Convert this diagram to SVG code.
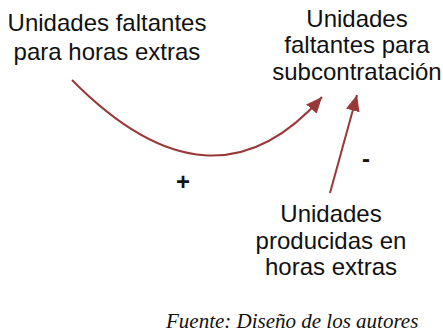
<svg xmlns="http://www.w3.org/2000/svg" width="443" height="334" viewBox="0 0 443 334">
<defs>
<style>
.t{font-family:"Liberation Sans",Arial,sans-serif;font-size:24px;fill:#111;text-anchor:middle}
.s{font-family:"Liberation Sans",Arial,sans-serif;font-size:24px;font-weight:bold;fill:#111;text-anchor:middle}
.c{fill:none;stroke:#993838;stroke-width:2}
.src{font-family:"Liberation Serif","Times New Roman",serif;font-style:italic;font-size:21px;fill:#111}
</style>
<marker id="ah" markerUnits="userSpaceOnUse" markerWidth="18" markerHeight="14" refX="16" refY="7" orient="auto">
<path d="M0,0 L16,7 L0,14 z" fill="#993838"/>
</marker>
</defs>
<rect width="443" height="334" fill="#fff"/>
<g id="connectors">
<path class="c" d="M72,80 Q212,222 322,97" marker-end="url(#ah)"/>
<path class="c" d="M330,193 L357,95" marker-end="url(#ah)"/>
</g>
<g id="node-faltantes-horas">
<text class="t" x="107" y="31">Unidades faltantes</text>
<text class="t" x="107" y="60">para horas extras</text>
</g>
<g id="node-faltantes-sub">
<text class="t" x="357" y="27">Unidades</text>
<text class="t" x="357" y="53">faltantes para</text>
<text class="t" x="357" y="80">subcontratación</text>
</g>
<g id="node-producidas">
<text class="t" x="331" y="222">Unidades</text>
<text class="t" x="331" y="249">producidas en</text>
<text class="t" x="331" y="275">horas extras</text>
</g>
<g id="signs">
<text class="s" x="183" y="190">+</text>
<text class="s" x="366" y="167">-</text>
</g>
<text class="src" x="166" y="328">Fuente: Diseño de los autores</text>
</svg>
